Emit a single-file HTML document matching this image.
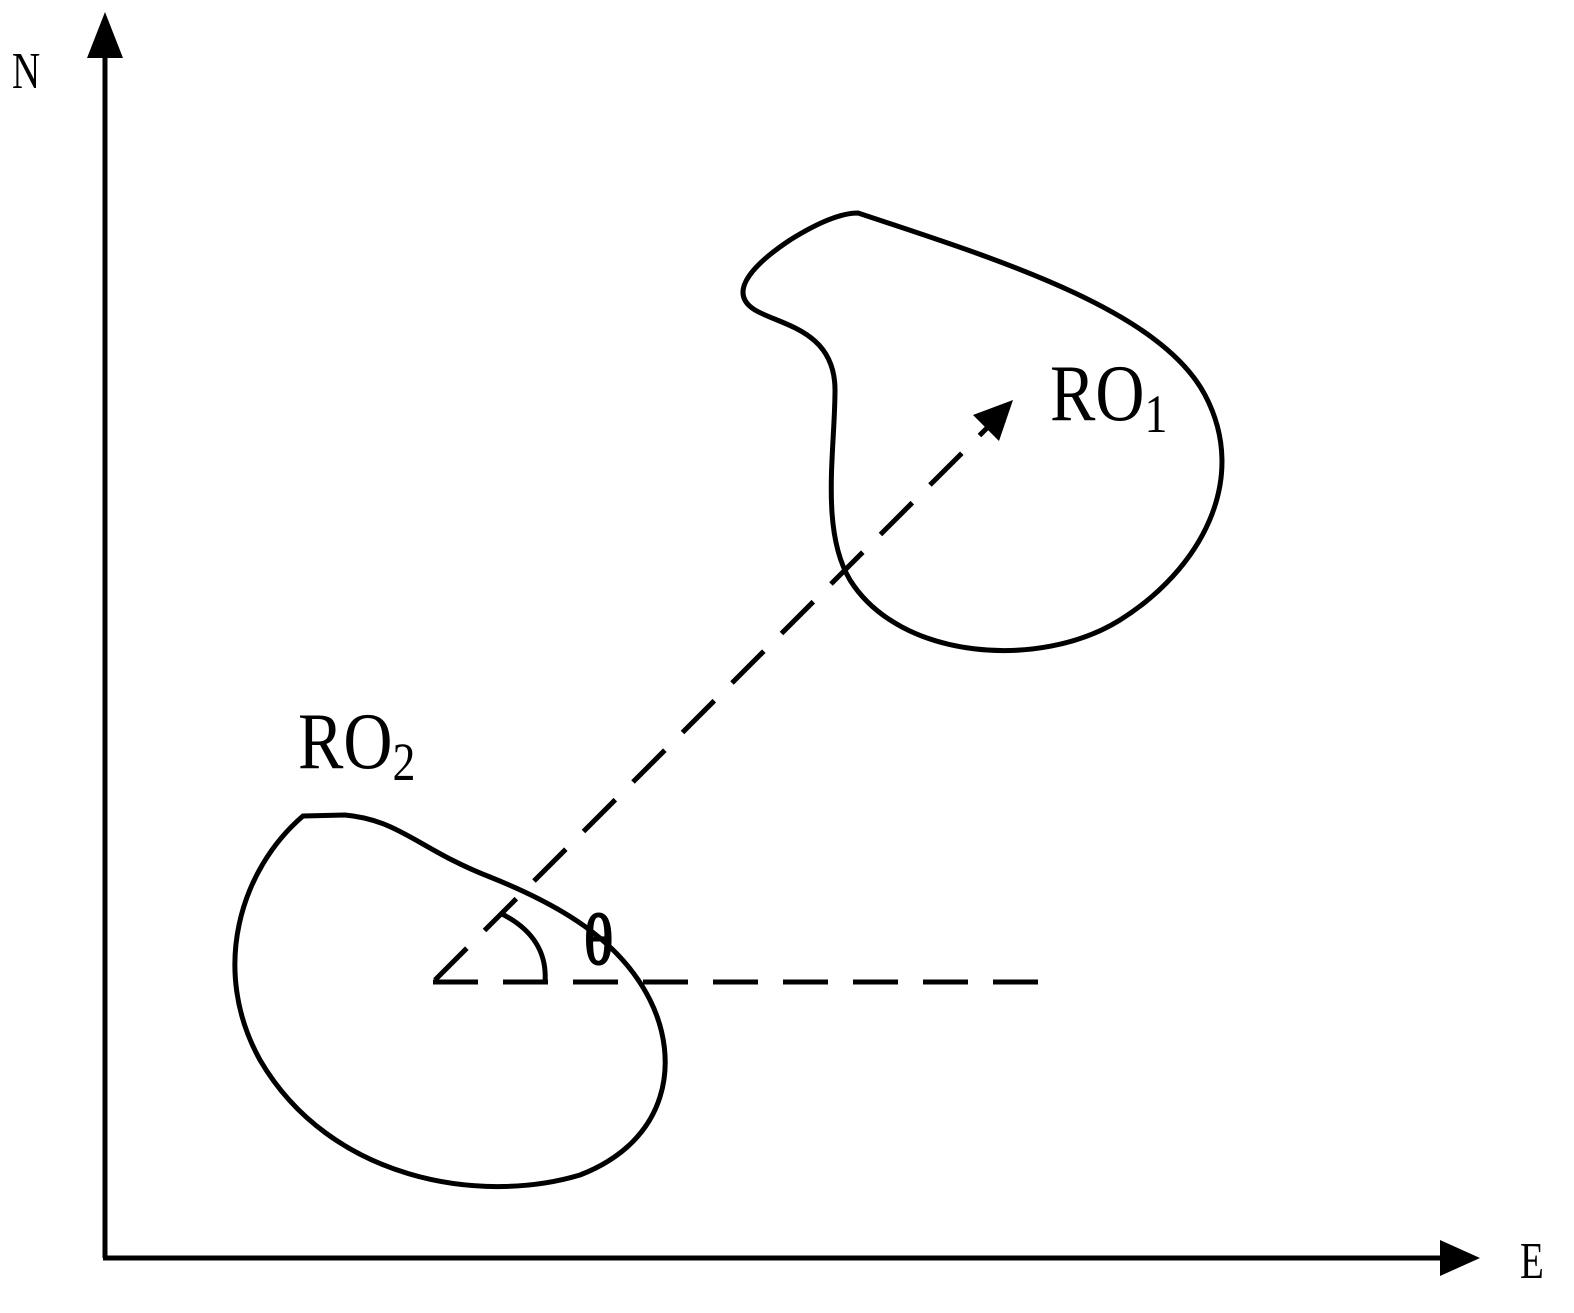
<!DOCTYPE html>
<html><head><style>html,body{margin:0;padding:0;background:#fff}</style></head>
<body>
<svg width="1574" height="1308" viewBox="0 0 1574 1308" xmlns="http://www.w3.org/2000/svg">
<g stroke="#000" stroke-width="5" fill="none">
<line x1="105" y1="1258" x2="105" y2="40"/>
<line x1="103" y1="1258" x2="1445" y2="1258"/>
<path d="M858,213 C1000,260 1160,310 1205,395 C1250,480 1200,570 1120,620 C1040,670 900,660 850,580 C820,530 835,450 835,390 C835,330 780,325 755,310 C730,295 745,270 790,240 C830,215 850,213 858,213 Z"/>
<path d="M303,816 L345,815 C400,820 420,850 490,877 C560,905 620,940 650,1000 C680,1060 670,1140 580,1175 C480,1205 330,1180 260,1060 C210,970 240,870 303,816 Z"/>
<line x1="433" y1="982" x2="1040" y2="982" stroke-dasharray="45,25"/>
<line x1="435" y1="980" x2="990" y2="425" stroke-dasharray="45,25"/>
<path d="M500,913 C535,930 547,955 545,982"/>
</g>
<polygon points="105,12 87,58 123,58" fill="#000"/>
<polygon points="1480,1258 1440,1240 1440,1276" fill="#000"/>
<polygon points="1013,400 973,415 999,441" fill="#000"/>
<g font-family="Liberation Serif, serif" fill="#000">
<text transform="translate(12,88) scale(0.75,1)" font-size="52">N</text>
<text transform="translate(1520,1278) scale(0.75,1)" font-size="52">E</text>
<text transform="translate(1050,420) scale(0.85,1)" font-size="80">RO<tspan font-size="54" dy="12">1</tspan></text>
<text transform="translate(298,768) scale(0.85,1)" font-size="80">RO<tspan font-size="54" dy="12">2</tspan></text>
<text transform="translate(584,964) scale(0.85,1)" font-size="72" stroke="#000" stroke-width="2">θ</text>
</g>
</svg>
</body></html>
